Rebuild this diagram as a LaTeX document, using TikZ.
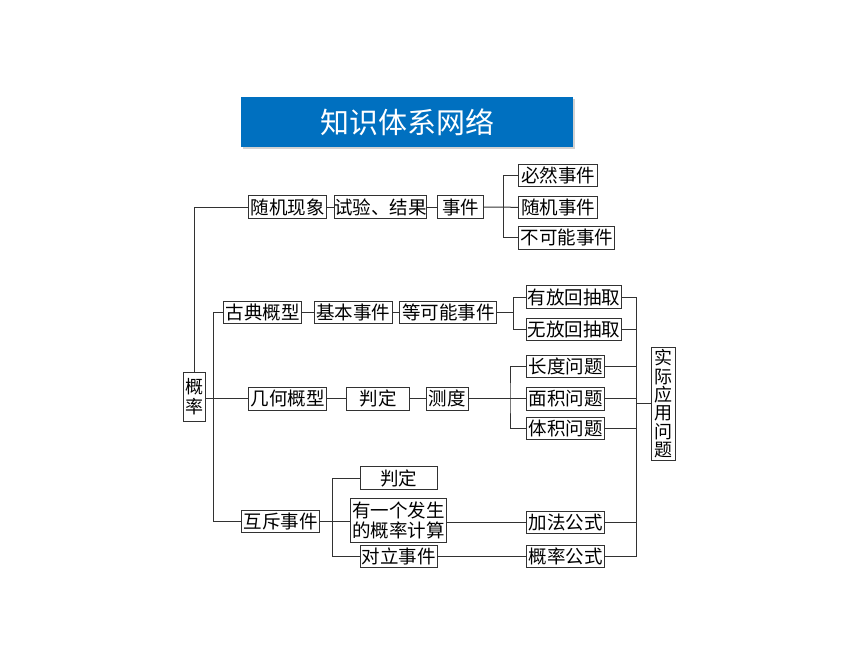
\documentclass[tikz,border=0pt]{standalone}
\usepackage{fontspec}
\newfontfamily\cjk{Noto Sans CJK SC}
\usetikzlibrary{shadows}
\definecolor{titleblue}{RGB}{0,112,192}
\definecolor{linegray}{RGB}{50,50,50}
\begin{document}
\begin{tikzpicture}[x=1pt,y=-1pt,
  box/.style={draw=linegray,line width=1pt,inner sep=0pt,minimum height=22.5pt,
    font=\cjk\fontsize{18.5}{20}\selectfont,align=center,text=black},
  conn/.style={draw=linegray,line width=1pt}]
\useasboundingbox (0,0) rectangle (860,645);
\fill[white] (0,0) rectangle (860,645);
% title
\node[fill=titleblue,minimum width=332pt,minimum height=50pt,inner sep=0pt,
  drop shadow={shadow xshift=2pt,shadow yshift=-2pt,opacity=0.35},
  text=white,font=\cjk\fontsize{29}{31}\selectfont] (title) at (407,122) {知识体系网络};
% row 1
\node[box,minimum width=78.4pt] (sjxx) at (287.5,207) {随机现象};
\node[box,minimum width=91.3pt] (syjg) at (380.3,207) {试验、结果};
\node[box,minimum width=45.6pt] (sj) at (460.5,207) {事件};
\node[box,minimum width=79pt] (brsj) at (558.2,175.7) {必然事件};
\node[box,minimum width=79pt] (sjsj) at (558.2,207.5) {随机事件};
\node[box,minimum width=96.3pt] (bknsj) at (566.8,237.8) {不可能事件};
% row 2
\node[box,minimum width=78.4pt] (gdgx) at (262.5,312.5) {古典概型};
\node[box,minimum width=78.3pt] (jbsj) at (353.2,312.5) {基本事件};
\node[box,minimum width=96.7pt] (dknsj) at (448.3,312.5) {等可能事件};
\node[box,minimum width=95pt] (yfh) at (574.2,297) {有放回抽取};
\node[box,minimum width=95pt] (wfh) at (574.2,329.7) {无放回抽取};
% row 3
\node[box,minimum width=21.7pt,minimum height=48.7pt,font=\cjk\fontsize{18}{20}\selectfont] (gl) at (194.2,396.7) {概\\率};
\node[box,minimum width=78.4pt] (jhgx) at (287.5,398.8) {几何概型};
\node[box,minimum width=62.6pt] (pd1) at (378,398.8) {判定};
\node[box,minimum width=42.3pt] (cd) at (447.2,398.8) {测度};
\node[box,minimum width=78.3pt] (cdwt) at (565.8,366.3) {长度问题};
\node[box,minimum width=78.3pt] (mjwt) at (565.8,398.8) {面积问题};
\node[box,minimum width=78.3pt] (tjwt) at (565.8,428.7) {体积问题};
\node[box,minimum width=24.3pt,minimum height=112.7pt,font=\cjk\fontsize{18}{18.3}\selectfont] (sjyy) at (663.8,403.7) {实\\际\\应\\用\\问\\题};
% row 4
\node[box,minimum width=77.6pt] (hcsj) at (280.5,521.5) {互斥事件};
\node[box,minimum width=77.3pt] (pd2) at (398.7,478) {判定};
\node[box,minimum width=96pt,minimum height=44pt,font=\cjk\fontsize{18.5}{20.5}\selectfont] (yyg) at (398.7,520.3) {有一个发生\\的概率计算};
\node[box,minimum width=77.3pt] (dlsj) at (398.7,556.3) {对立事件};
\node[box,minimum width=78.3pt] (jfgs) at (565.8,522.5) {加法公式};
\node[box,minimum width=78.3pt] (glgs) at (565.8,556.3) {概率公式};
% branch coordinates
\coordinate (b1) at (503.3,207);
\coordinate (b2) at (213.3,398.8);
\coordinate (b3) at (510,398.8);
\coordinate (b4) at (513.3,312.5);
\coordinate (b5) at (332.7,521.5);
\coordinate (c) at (636,403.7);
% connectors
\draw[conn] (sjxx.east) -- (syjg.west);
\draw[conn] (syjg.east) -- (sj.west);
\draw[conn] (sj.east) -- (b1) -- (sjsj.west);
\draw[conn] (brsj.west) -| (b1) |- (bknsj.west);
\draw[conn] (gl.north) |- (sjxx.west);
\draw[conn] (gl.east |- jhgx) -- (jhgx.west);
\draw[conn] (gdgx.west) -| (b2) |- (hcsj.west);
\draw[conn] (gdgx.east) -- (jbsj.west);
\draw[conn] (jbsj.east) -- (dknsj.west);
\draw[conn] (dknsj.east) -- (b4);
\draw[conn] (yfh.west) -| (b4) |- (wfh.west);
\draw[conn] (jhgx.east) -- (pd1.west);
\draw[conn] (pd1.east) -- (cd.west);
\draw[conn] (cd.east) -- (b3) -- (mjwt.west);
\draw[conn] (cdwt.west) -| (b3) |- (tjwt.west);
\draw[conn] (hcsj.east) -- (b5) -- (yyg.west |- b5);
\draw[conn] (pd2.west) -| (b5) |- (dlsj.west);
\draw[conn] (yyg.east |- jfgs) -- (jfgs.west);
\draw[conn] (dlsj.east) -- (glgs.west);
\draw[conn] (yfh.east) -| (c);
\draw[conn] (glgs.east) -| (c);
\draw[conn] (wfh.east) -- (wfh.east -| c);
\draw[conn] (cdwt.east) -- (cdwt.east -| c);
\draw[conn] (mjwt.east) -- (mjwt.east -| c);
\draw[conn] (tjwt.east) -- (tjwt.east -| c);
\draw[conn] (jfgs.east) -- (jfgs.east -| c);
\draw[conn] (c) -- (sjyy.west);
\end{tikzpicture}
\end{document}
